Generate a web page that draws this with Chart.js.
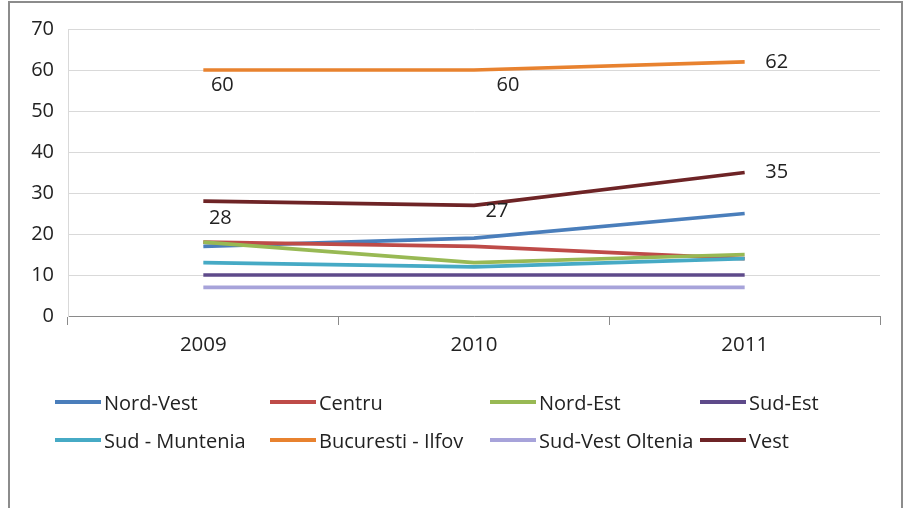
<!DOCTYPE html>
<html>
<head>
<meta charset="utf-8">
<script src="https://cdn.jsdelivr.net/npm/chart.js@4"></script>
<style>
  html, body { margin: 0; padding: 0; background: #fff; }
  #wrap { position: relative; width: 909px; height: 508px; overflow: hidden; }
  #frame { position: absolute; left: 8px; top: 1px; width: 895px; height: 520px;
           border: 2px solid #8c8c8c; border-bottom: none; box-sizing: border-box; }
  canvas { position: absolute; left: 0; top: 0; }
  #legend { position: absolute; left: 0; top: 0; width: 909px; height: 508px; pointer-events: none;
            font-family: "Open Sans", sans-serif; font-size: 20px; color: #222; }
  .item { position: absolute; display: flex; align-items: center; white-space: nowrap; height: 26px; }
  .swatch { width: 46px; height: 4px; margin-right: 3px; }
</style>
</head>
<body>
<div id="wrap">
  <div id="frame"></div>
  <canvas id="c" width="909" height="508"></canvas>
  <div id="legend"></div>
</div>
<script>
const categories = ["2009", "2010", "2011"];
const seriesNames = ["Nord-Vest", "Centru", "Nord-Est", "Sud-Est", "Sud - Muntenia", "Bucuresti - Ilfov", "Sud-Vest Oltenia", "Vest"];
const nordVest = [17, 19, 25];
const centru = [18, 17, 14];
const nordEst = [18, 13, 15];
const sudEst = [10, 10, 10];
const sudMuntenia = [13, 12, 14];
const bucurestiIlfov = [60, 60, 62];
const sudVestOltenia = [7, 7, 7];
const vest = [28, 27, 35];
const yTicks = [0, 10, 20, 30, 40, 50, 60, 70];
const labelledSeries = ["Bucuresti - Ilfov", "Vest"];

const seriesValues = [nordVest, centru, nordEst, sudEst, sudMuntenia, bucurestiIlfov, sudVestOltenia, vest];
const colors = ["#4A7EBB", "#BE4B48", "#98B954", "#5E4A8A", "#46AAC5", "#E8822F", "#A7A3DA", "#6E2426"];

// label offsets (px) relative to the point, per labelled series
const labelOffsets = {
  "Bucuresti - Ilfov": [[19, 15], [34, 15], [32, 0]],
  "Vest": [[17, 17], [23, 6], [32, 0]]
};

const FONT = "'Open Sans', sans-serif";

const datasets = seriesNames.map((name, i) => ({
  label: name,
  data: seriesValues[i],
  borderColor: colors[i],
  backgroundColor: colors[i],
  borderWidth: 3.7,
  pointRadius: 0,
  tension: 0,
  fill: false,
  order: seriesNames.length - i
}));

const valueLabels = {
  id: 'valueLabels',
  afterDatasetsDraw(chart) {
    const ctx = chart.ctx;
    ctx.save();
    ctx.font = "20px " + FONT;
    ctx.fillStyle = "#222";
    ctx.textAlign = "center";
    ctx.textBaseline = "middle";
    chart.data.datasets.forEach((ds, di) => {
      if (!labelledSeries.includes(ds.label)) return;
      const meta = chart.getDatasetMeta(di);
      const offs = labelOffsets[ds.label];
      meta.data.forEach((pt, i) => {
        ctx.fillText(String(ds.data[i]), pt.x + offs[i][0], pt.y + offs[i][1]);
      });
    });
    ctx.restore();
  }
};

new Chart(document.getElementById('c'), {
  type: 'line',
  data: { labels: categories, datasets },
  options: {
    responsive: false,
    animation: false,
    devicePixelRatio: 1,
    layout: { padding: { top: 29, right: 29, bottom: 152, left: 0 } },
    plugins: { legend: { display: false }, tooltip: { enabled: false } },
    scales: {
      x: {
        offset: true,
        grid: { offset: true, drawOnChartArea: false, drawTicks: true, tickLength: 9, color: "#8a8a8a" },
        border: { color: "#8a8a8a", width: 1 },
        ticks: { font: { family: FONT, size: 20.5 }, color: "#222", padding: 8 },
        afterFit(s) { s.height = 40; }
      },
      y: {
        min: 0, max: 70,
        afterBuildTicks(s) { s.ticks = yTicks.map(v => ({ value: v })); },
        grid: { color: "#d9d9d9", drawTicks: false },
        border: { color: "#d9d9d9" },
        ticks: { font: { family: FONT, size: 20 }, color: "#222", padding: 14 },
        afterFit(s) { s.width = 68; }
      }
    }
  },
  plugins: [valueLabels]
});

// HTML legend built from the series arrays
const legendPos = [[55, 402], [270, 402], [490, 402], [700, 402], [55, 440], [270, 440], [490, 440], [700, 440]];
const leg = document.getElementById('legend');
seriesNames.forEach((name, i) => {
  const it = document.createElement('div');
  it.className = 'item';
  it.style.left = legendPos[i][0] + 'px';
  it.style.top = (legendPos[i][1] - 13) + 'px';
  const sw = document.createElement('span');
  sw.className = 'swatch';
  sw.style.background = colors[i];
  const tx = document.createElement('span');
  tx.textContent = name;
  it.appendChild(sw); it.appendChild(tx);
  leg.appendChild(it);
});
</script>
</body>
</html>
